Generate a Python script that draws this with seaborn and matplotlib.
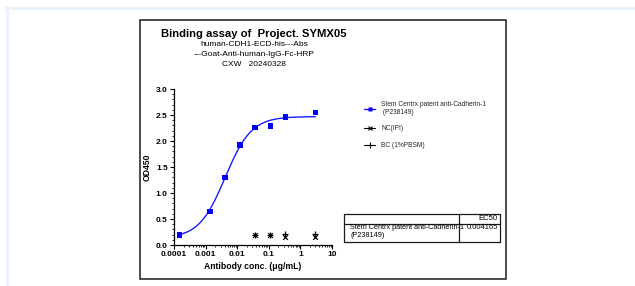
import numpy as np
import pandas as pd
import seaborn as sns
import matplotlib
matplotlib.use("Agg")
import matplotlib.pyplot as plt
from matplotlib.lines import Line2D
from matplotlib.patches import Rectangle

# --- data ---
conc_ab = [0.000152, 0.00137, 0.00412, 0.0123, 0.037, 0.111, 0.333, 3.0]
od_ab = [0.19, 0.64, 1.30, 1.92, 2.26, 2.29, 2.46, 2.55]
conc_nc = [0.037, 0.111, 0.333, 3.0]
od_nc = [0.20, 0.20, 0.15, 0.16]
conc_bc = [0.037, 0.111, 0.333, 3.0]
od_bc = [0.19, 0.19, 0.22, 0.21]
# 4PL fit parameters (EC50 from the table)
fit_bottom, fit_top, fit_ec50, fit_hill = 0.13, 2.47, 0.004165, 1.05

x_ticks = [0.0001, 0.001, 0.01, 0.1, 1, 10]
x_ticklabels = ["0.0001", "0.001", "0.01", "0.1", "1", "10"]
y_ticks = [0.0, 0.5, 1.0, 1.5, 2.0, 2.5, 3.0]

W, H = 635, 286
sns.set_theme(style="ticks")
plt.rcParams["font.family"] = ["Liberation Sans", "DejaVu Sans"]

def fx(x):
    return x / W

def fy(y):
    return 1 - y / H

fig = plt.figure(figsize=(W / 100, H / 100), dpi=100)
fig.patch.set_facecolor("white")

# light frame of the page
fig.add_artist(Line2D([fx(5), 1], [fy(7.5), fy(7.5)], color="#eaf2fb", lw=2.2))
fig.add_artist(Line2D([fx(6.5), fx(6.5)], [fy(6), 0], color="#eaf2fb", lw=2.2))
# black box around the graph
fig.add_artist(Rectangle((fx(139.5), fy(279)), fx(506 - 139.5), (279 - 19.5) / H,
                         fill=False, ec="#1a1a1a", lw=1.1, transform=fig.transFigure))

ax = fig.add_axes([fx(174), fy(245), fx(332 - 174), (245 - 89) / H])
ax.set_facecolor("none")

curve_x = np.logspace(np.log10(conc_ab[0]), np.log10(conc_ab[-1]), 200)
curve = pd.DataFrame({"conc": curve_x,
                      "od": fit_bottom + (fit_top - fit_bottom) / (1 + (fit_ec50 / curve_x) ** fit_hill)})
sns.lineplot(data=curve, x="conc", y="od", ax=ax, color="#1a1aff", lw=1.0)
sns.scatterplot(x=conc_ab, y=od_ab, ax=ax, marker="s", color="#0000ff", s=15, edgecolor="none", zorder=3)
sns.scatterplot(x=conc_nc, y=od_nc, ax=ax, marker="x", color="black", s=11, linewidth=0.9, zorder=3)
sns.scatterplot(x=conc_bc, y=od_bc, ax=ax, marker="+", color="black", s=16, linewidth=0.9, zorder=3)

ax.set_xscale("log")
ax.set_xlim(0.0001, 10)
ax.set_ylim(0, 3.0)
ax.set_xticks(x_ticks)
ax.set_xticklabels(x_ticklabels)
ax.set_yticks(y_ticks)
ax.set_yticklabels([f"{v:.1f}" for v in y_ticks])
ax.yaxis.set_minor_locator(matplotlib.ticker.MultipleLocator(0.1))
ax.xaxis.set_minor_locator(matplotlib.ticker.LogLocator(base=10, subs=np.arange(2, 10)))
ax.xaxis.set_minor_formatter(matplotlib.ticker.NullFormatter())
for s in ("top", "right"):
    ax.spines[s].set_visible(False)
for s in ("left", "bottom"):
    ax.spines[s].set_color("black")
    ax.spines[s].set_linewidth(0.9)
ax.tick_params(which="major", length=3, width=0.8, color="black", pad=1.5,
               labelsize=6.0, labelcolor="black")
ax.tick_params(which="minor", length=1.6, width=0.6, color="black")
for lab in ax.get_xticklabels() + ax.get_yticklabels():
    lab.set_fontweight("bold")
ax.set_xlabel("Antibody conc. (μg/mL)", fontsize=6.2, fontweight="bold", labelpad=3, color="black")
ax.set_ylabel("OD450", fontsize=6.2, fontweight="bold", labelpad=3, color="black")

# titles
fig.text(fx(254), fy(34), "Binding assay of  Project. SYMX05", ha="center", va="center",
         fontsize=8.1, fontweight="bold", color="black")
for yy, txt in [(45, "human-CDH1-ECD-his---Abs"), (54.7, "---Goat-Anti-human-IgG-Fc-HRP"),
                (64.3, "CXW   20240328")]:
    fig.text(fx(254), fy(yy), txt, ha="center", va="center", fontsize=6.0, color="black")

# legend
handles = [
    Line2D([], [], color="#1a1aff", lw=1.0, marker="s", markersize=3.2, markerfacecolor="#0000ff",
           markeredgecolor="none"),
    Line2D([], [], color="black", lw=0.8, marker="x", markersize=3.2, markeredgewidth=0.8),
    Line2D([], [], color="black", lw=0.8, marker="+", markersize=3.8, markeredgewidth=0.8),
]
labels = ["Stem Centrx patent anti-Cadherin-1\n (P238149)", "NC(IPI)", "BC (1%PBSM)"]
ax.legend(handles, labels, loc="upper left", bbox_to_anchor=(fx(364), fy(101)),
          bbox_transform=fig.transFigure, frameon=False, fontsize=4.8, handlelength=1.7,
          handletextpad=0.9, labelspacing=1.42, borderpad=0, borderaxespad=0)

# EC50 table
tl, tr, tt, th, tb, td = 344, 500, 214, 223.5, 242, 459
tc = "#1a1a1a"
for xs, ys in [([tl, tr], [tt, tt]), ([tl, tr], [th, th]), ([tl, tr], [tb, tb]),
               ([tl, tl], [tt, tb]), ([tr, tr], [tt, tb]), ([td, td], [tt, tb])]:
    fig.add_artist(Line2D([fx(v) for v in xs], [fy(v) for v in ys], color=tc, lw=0.9))
fig.text(fx(497.5), fy(218.5), "EC50", ha="right", va="center", fontsize=5.6, color="black")
fig.text(fx(350), fy(227.5), "Stem Centrx patent anti-Cadherin-1", ha="left", va="center",
         fontsize=5.2, color="black")
fig.text(fx(351), fy(235.5), "(P238149)", ha="left", va="center", fontsize=5.2, color="black")
fig.text(fx(498), fy(227.5), "0.004165", ha="right", va="center", fontsize=5.5, color="black")

fig.savefig("out.png", dpi=100)
